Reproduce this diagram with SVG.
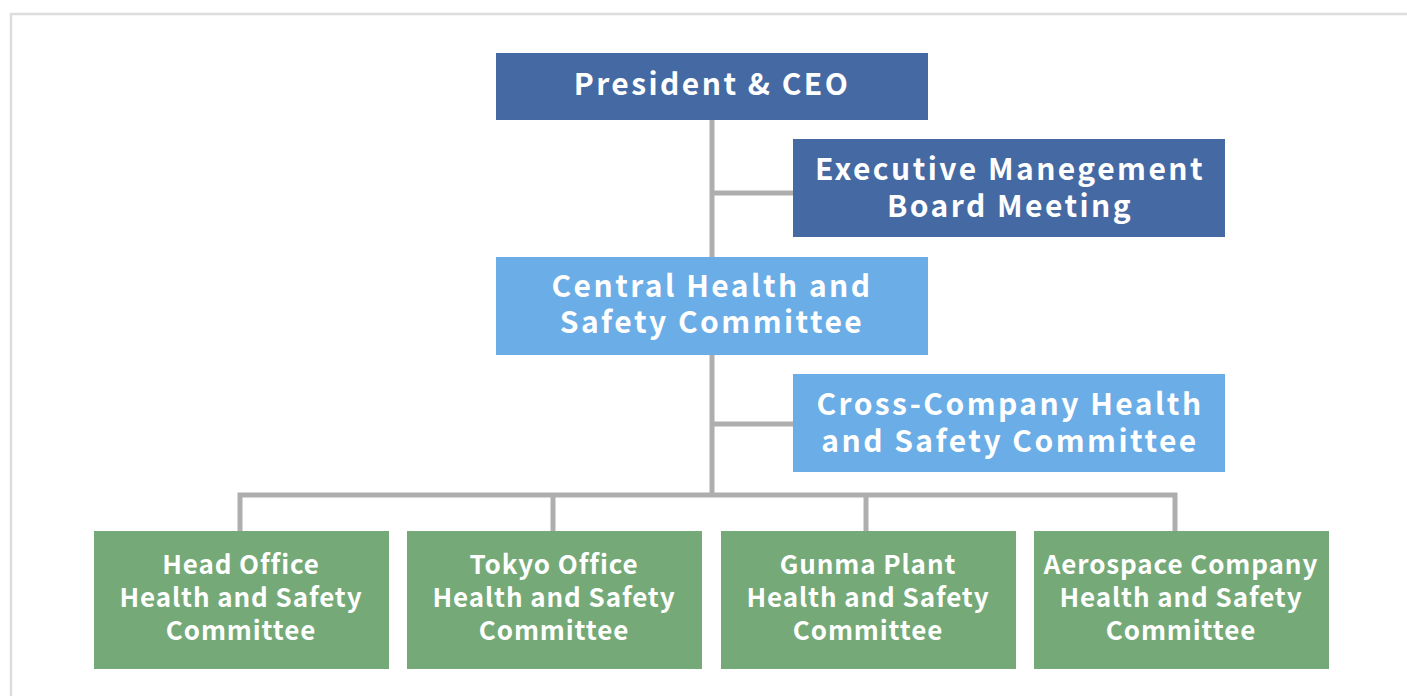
<svg xmlns="http://www.w3.org/2000/svg" width="1407" height="696" viewBox="0 0 1407 696">
  <style>
    .frame { fill: #ffffff; stroke: #dddddd; stroke-width: 2.5; }
    .link { fill: none; stroke: #aeaeae; stroke-width: 5; }
    .navy { fill: #4569a3; }
    .sky { fill: #6badE6; }
    .green { fill: #75aa78; }
    text { fill: #ffffff; font-family: "Noto Sans CJK JP", "Noto Sans", sans-serif; font-weight: 700; text-anchor: middle; }
    .big { font-size: 30px; letter-spacing: 2.45px; }
    .small { font-size: 26px; letter-spacing: 0.9px; }
  </style>

  <rect width="1407" height="696" fill="#ffffff"/>
  <rect class="frame" x="11" y="14" width="1420" height="700"/>

  <!-- connectors -->
  <g id="connectors">
    <path class="link" d="M712 120 V494"/>
    <path class="link" d="M712 193 H793"/>
    <path class="link" d="M712 424 H793"/>
    <path class="link" d="M240 531 V495 H1175 V531"/>
    <path class="link" d="M553 495 V531"/>
    <path class="link" d="M866 495 V531"/>
  </g>

  <g id="president">
    <rect class="navy" x="496" y="53" width="432" height="67"/>
    <text class="big" x="712" y="95">President &amp; CEO</text>
  </g>

  <g id="executive-board">
    <rect class="navy" x="793" y="139" width="432" height="98"/>
    <text class="big" x="1010" y="180">Executive Manegement</text>
    <text class="big" x="1010" y="217">Board Meeting</text>
  </g>

  <g id="central-committee">
    <rect class="sky" x="496" y="257" width="432" height="98"/>
    <text class="big" x="712" y="297">Central Health and</text>
    <text class="big" x="712" y="333">Safety Committee</text>
  </g>

  <g id="cross-company-committee">
    <rect class="sky" x="793" y="374" width="432" height="98"/>
    <text class="big" x="1010" y="415">Cross-Company Health</text>
    <text class="big" x="1010" y="452">and Safety Committee</text>
  </g>

  <g id="head-office-committee">
    <rect class="green" x="94" y="531" width="295" height="138"/>
    <text class="small" x="241" y="574">Head Office</text>
    <text class="small" x="241" y="607">Health and Safety</text>
    <text class="small" x="241" y="640">Committee</text>
  </g>

  <g id="tokyo-office-committee">
    <rect class="green" x="407" y="531" width="295" height="138"/>
    <text class="small" x="554" y="574">Tokyo Office</text>
    <text class="small" x="554" y="607">Health and Safety</text>
    <text class="small" x="554" y="640">Committee</text>
  </g>

  <g id="gunma-plant-committee">
    <rect class="green" x="721" y="531" width="295" height="138"/>
    <text class="small" x="868" y="574">Gunma Plant</text>
    <text class="small" x="868" y="607">Health and Safety</text>
    <text class="small" x="868" y="640">Committee</text>
  </g>

  <g id="aerospace-committee">
    <rect class="green" x="1034" y="531" width="295" height="138"/>
    <text class="small" x="1181" y="574">Aerospace Company</text>
    <text class="small" x="1181" y="607">Health and Safety</text>
    <text class="small" x="1181" y="640">Committee</text>
  </g>
</svg>
